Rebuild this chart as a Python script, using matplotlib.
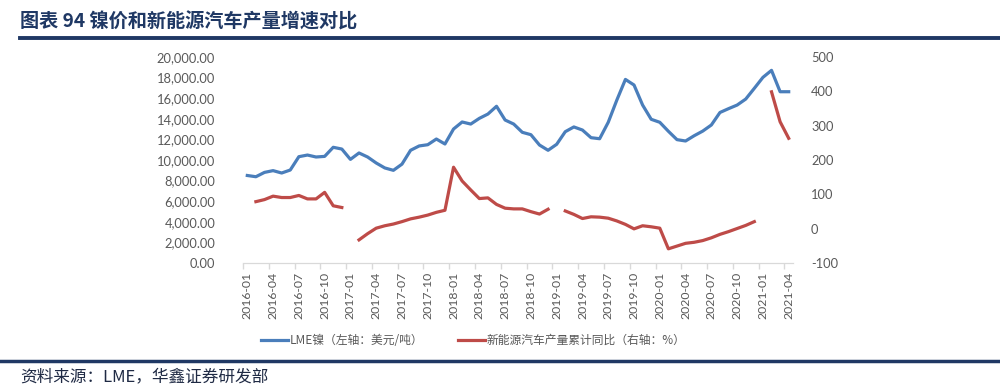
import numpy as np
import matplotlib
matplotlib.use("Agg")
import matplotlib.pyplot as plt
from matplotlib.ticker import FuncFormatter, FixedLocator
from matplotlib.lines import Line2D

plt.rcParams['font.family'] = ['Noto Sans CJK SC', 'DejaVu Sans']

months = [
    "2016-01", "2016-02", "2016-03", "2016-04", "2016-05", "2016-06", "2016-07", "2016-08",
    "2016-09", "2016-10", "2016-11", "2016-12", "2017-01", "2017-02", "2017-03", "2017-04",
    "2017-05", "2017-06", "2017-07", "2017-08", "2017-09", "2017-10", "2017-11", "2017-12",
    "2018-01", "2018-02", "2018-03", "2018-04", "2018-05", "2018-06", "2018-07", "2018-08",
    "2018-09", "2018-10", "2018-11", "2018-12", "2019-01", "2019-02", "2019-03", "2019-04",
    "2019-05", "2019-06", "2019-07", "2019-08", "2019-09", "2019-10", "2019-11", "2019-12",
    "2020-01", "2020-02", "2020-03", "2020-04", "2020-05", "2020-06", "2020-07", "2020-08",
    "2020-09", "2020-10", "2020-11", "2020-12", "2021-01", "2021-02", "2021-03", "2021-04",
]

lme_nickel = [
    8500, 8380, 8800, 8970, 8740, 9030, 10320, 10480, 10290, 10350, 11230, 11060,
    10060, 10680, 10290, 9710, 9230, 9000, 9600, 10940, 11360, 11480, 12030, 11550,
    13000, 13680, 13480, 14030, 14450, 15200, 13870, 13480, 12680, 12450, 11450, 10940,
    11520, 12740, 13200, 12900, 12160, 12060, 13650, 15800, 17800, 17260, 15320, 13940,
    13650, 12780, 11970, 11840, 12350, 12800, 13390, 14600, 14970, 15320, 15900, 16940,
    18000, 18680, 16610, 16610,
]

nev_yoy = [
    None, 79, 85, 95, 91, 91, 97, 87, 87, 106, 67, 62,
    None, -32, -14, 2, 9, 14, 21, 29, 34, 40, 48, 54,
    179, 139, 113, 88, 90, 71, 60, 58, 58, 50, 43, 57,
    None, 52, 42, 30, 35, 34, 31, 23, 13, 0, 9, 6,
    2, -58, -50, -42, -39, -34, -26, -16, -8, 1, 10, 21,
    None, 398, 311, 263,
]

title_text = "图表 94 镍价和新能源汽车产量增速对比"
source_text = "资料来源：LME，华鑫证券研发部"
legend_labels = ["LME镍（左轴：美元/吨）", "新能源汽车产量累计同比（右轴：%）"]

navy = "#1F3864"
blue = "#4A7EBB"
red = "#BE4B48"
gray = "#595959"
tickfont = ['Lato', 'DejaVu Sans']

fig = plt.figure(figsize=(10, 3.9), dpi=100)

x = np.arange(len(months))
y1 = np.array(lme_nickel, dtype=float)
y2 = np.array([np.nan if v is None else v for v in nev_yoy], dtype=float)

ax = fig.add_axes([0.243, 0.3249, 0.550, 0.5297])
ax2 = ax.twinx()

ax.plot(x, y1, color=blue, lw=2.3, solid_joinstyle='round')
ax2.plot(x, y2, color=red, lw=2.3, solid_joinstyle='round')

ax.set_xlim(-0.5, len(months) - 0.5)
ax.set_ylim(0, 20000)
ax2.set_ylim(-100, 500)

ax.yaxis.set_major_locator(FixedLocator(np.arange(0, 20001, 2000)))
ax.yaxis.set_major_formatter(FuncFormatter(lambda v, p: f"{v:,.2f}"))
ax2.yaxis.set_major_locator(FixedLocator(np.arange(-100, 501, 100)))
ax2.yaxis.set_major_formatter(FuncFormatter(lambda v, p: f"{int(v)}"))

label_idx = list(range(0, len(months), 3))
ax.set_xticks(label_idx)
ax.set_xticklabels([months[i] for i in label_idx], rotation=90, fontsize=8.8,
                   color=gray, family=tickfont)
ax.set_xticks([i - 0.5 for i in label_idx], minor=True)
ax.tick_params(axis='x', which='major', length=0, pad=6)
ax.tick_params(axis='x', which='minor', length=4, color="#D9D9D9", width=1)

ax.tick_params(axis='y', length=0, labelsize=9.3, labelcolor=gray, pad=20)
ax2.tick_params(axis='y', length=0, labelsize=9.3, labelcolor=gray, pad=13)
for lab in ax.get_yticklabels() + ax2.get_yticklabels():
    lab.set_family(tickfont)

for a in (ax, ax2):
    for s in ('top', 'left', 'right'):
        a.spines[s].set_visible(False)
    a.spines['bottom'].set_color("#D9D9D9")
    a.patch.set_visible(False)

# title and rules
fig.text(0.02, 0.945, title_text, fontsize=13.8, fontweight='bold', color=navy,
         ha='left', va='center')
fig.add_artist(Line2D([0.02, 1.0], [0.903, 0.903], color=navy, lw=2.8,
                      transform=fig.transFigure))
fig.add_artist(Line2D([0.0, 1.0], [0.074, 0.074], color=navy, lw=2.5,
                      transform=fig.transFigure))
fig.text(0.02, 0.033, source_text, fontsize=12, color="#1F2A44",
         ha='left', va='center')

# legend
handles = [Line2D([], [], color=blue, lw=2.3), Line2D([], [], color=red, lw=2.3)]
fig.legend(handles, legend_labels, loc='center', bbox_to_anchor=(0.4735, 0.127),
           ncol=2, frameon=False, fontsize=8.5, handlelength=2.3, columnspacing=2.9,
           handletextpad=0.15, labelcolor=gray)

fig.savefig("out.png", dpi=100)
